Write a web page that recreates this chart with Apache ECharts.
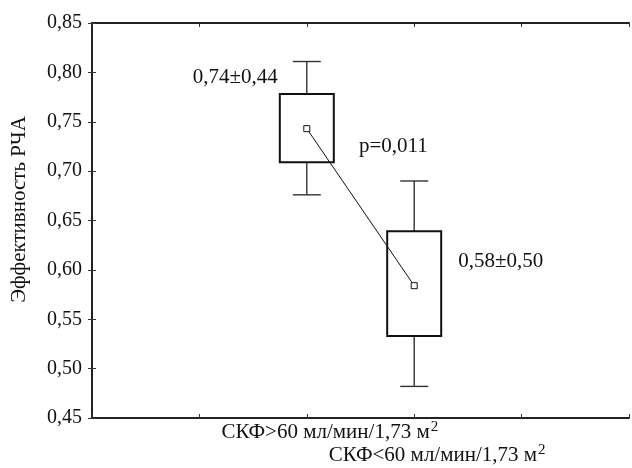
<!DOCTYPE html>
<html>
<head>
<meta charset="utf-8">
<script src="https://cdn.jsdelivr.net/npm/echarts@6/dist/echarts.min.js"></script>
<style>
  html, body { margin: 0; padding: 0; background: #fff; }
  #chart { width: 632px; height: 468px; }
</style>
</head>
<body>
<div id="chart"></div>
<script>
// Groups compared (the trailing "2" is drawn as a superscript)
const groups = ['СКФ>60 мл/мин/1,73 м', 'СКФ<60 мл/мин/1,73 м'];
// Mean efficiency and SD per group
const means = [0.743, 0.584];
const sds = [0.44, 0.50];
// Box: mean ± SE; whiskers: mean ± 1.96·SE
const boxLow = [0.709, 0.533];
const boxHigh = [0.778, 0.639];
const whiskerLow = [0.676, 0.482];
const whiskerHigh = [0.811, 0.690];
// Significance of the difference
const pValue = '0,011';
// Value axis ticks
const yMin = 0.45, yMax = 0.85, yStep = 0.05;

// Groups sit on the middle two of five equal slots of the x axis
const SLOT_OFFSET = 2;
const X_MAX = 5;

const FONT = '"Liberation Serif", "Times New Roman", serif';
const fmt = v => v.toFixed(2).replace('.', ',');

const boxData = groups.map((g, i) => [i + SLOT_OFFSET, whiskerLow[i], boxLow[i], boxHigh[i], whiskerHigh[i], means[i], sds[i]]);
const meanData = groups.map((g, i) => [i + SLOT_OFFSET, means[i]]);

// where each "mean±SD" note goes relative to its box
const notePlacement = [
  { side: 'left', dx: -2, dy: -17 },
  { side: 'right', dx: 17, dy: 30 }
];

const BOX_W = 54, CAP_W = 28;

function renderBox(params, api) {
  const x = api.value(0);
  const pWl = api.coord([x, api.value(1)]);
  const pBl = api.coord([x, api.value(2)]);
  const pBh = api.coord([x, api.value(3)]);
  const pWh = api.coord([x, api.value(4)]);
  const cx = pBl[0];
  const wStyle = { stroke: '#333', lineWidth: 1.4 };
  const place = notePlacement[params.dataIndex];
  const noteText = fmt(api.value(5)) + '±' + fmt(api.value(6));
  const note = place.side === 'left'
    ? { x: cx - BOX_W / 2 + place.dx, y: pBh[1] + place.dy, align: 'right' }
    : { x: cx + BOX_W / 2 + place.dx, y: pBh[1] + place.dy, align: 'left' };
  return {
    type: 'group',
    children: [
      { type: 'line', shape: { x1: cx, y1: pWh[1], x2: cx, y2: pBh[1] }, style: wStyle },
      { type: 'line', shape: { x1: cx, y1: pBl[1], x2: cx, y2: pWl[1] }, style: wStyle },
      { type: 'line', shape: { x1: cx - CAP_W / 2, y1: pWh[1], x2: cx + CAP_W / 2, y2: pWh[1] }, style: wStyle },
      { type: 'line', shape: { x1: cx - CAP_W / 2, y1: pWl[1], x2: cx + CAP_W / 2, y2: pWl[1] }, style: wStyle },
      { type: 'rect', shape: { x: cx - BOX_W / 2, y: pBh[1], width: BOX_W, height: pBl[1] - pBh[1] },
        style: { fill: 'none', stroke: '#111', lineWidth: 2 } },
      { type: 'text', x: note.x, y: note.y,
        style: { text: noteText, font: '21px ' + FONT, fill: '#111', align: note.align, verticalAlign: 'middle' } }
    ]
  };
}

const axisLineStyle = { color: '#222', width: 2 };
const tickStyle = { show: true, inside: true, length: 4, lineStyle: { color: '#333', width: 1 } };

const chart = echarts.init(document.getElementById('chart'), null, { renderer: 'canvas' });
chart.setOption({
  backgroundColor: '#fff',
  animation: false,
  textStyle: { fontFamily: FONT },
  grid: { left: 92, right: -2, top: 23, bottom: 47, containLabel: false },
  xAxis: [
    {
      type: 'value', position: 'bottom', min: 0, max: X_MAX, interval: 1,
      axisLine: { lineStyle: axisLineStyle }, axisTick: tickStyle, splitLine: { show: false },
      axisLabel: {
        margin: 3,
        padding: [0, 0, 0, 46],
        formatter: v => {
          const i = v - SLOT_OFFSET;
          if (!groups[i]) return '';
          return (i === 1 ? '{t|}\n' : '') + '{t|' + groups[i] + '}{s|2}';
        },
        rich: {
          t: { fontFamily: FONT, fontSize: 21, color: '#111', lineHeight: 23 },
          s: { fontFamily: FONT, fontSize: 15, color: '#111', lineHeight: 23, padding: [0, 0, 10, 1] }
        }
      }
    },
    {
      type: 'value', position: 'top', min: 0, max: X_MAX, interval: 1,
      axisLine: { lineStyle: axisLineStyle }, axisTick: tickStyle, splitLine: { show: false },
      axisLabel: { show: false }
    }
  ],
  yAxis: [
    {
      type: 'value', position: 'left', min: yMin, max: yMax, interval: yStep,
      name: 'Эффективность РЧА', nameLocation: 'middle', nameGap: 62,
      nameTextStyle: { fontFamily: FONT, fontSize: 21, color: '#111', padding: [0, 0, 0, 22] },
      axisLine: { show: true, lineStyle: axisLineStyle }, axisTick: tickStyle, splitLine: { show: false },
      axisLabel: { formatter: fmt, fontFamily: FONT, fontSize: 20, color: '#111', margin: 10 }
    },
    {
      type: 'value', position: 'right', min: yMin, max: yMax, interval: yStep,
      axisLine: { show: true, lineStyle: axisLineStyle }, axisTick: tickStyle, splitLine: { show: false },
      axisLabel: { show: false }
    }
  ],
  graphic: [
    { type: 'text', left: 359, top: 136, style: { text: 'p=' + pValue, font: '21px ' + FONT, fill: '#111' } }
  ],
  series: [
    {
      type: 'custom', renderItem: renderBox, data: boxData,
      encode: { x: 0, y: [1, 2, 3, 4] }, z: 2
    },
    {
      type: 'line', data: meanData, symbol: 'rect', symbolSize: 6,
      itemStyle: { color: '#fff', borderColor: '#111', borderWidth: 1 },
      lineStyle: { color: '#111', width: 1 }, z: 3
    }
  ]
});
</script>
</body>
</html>
